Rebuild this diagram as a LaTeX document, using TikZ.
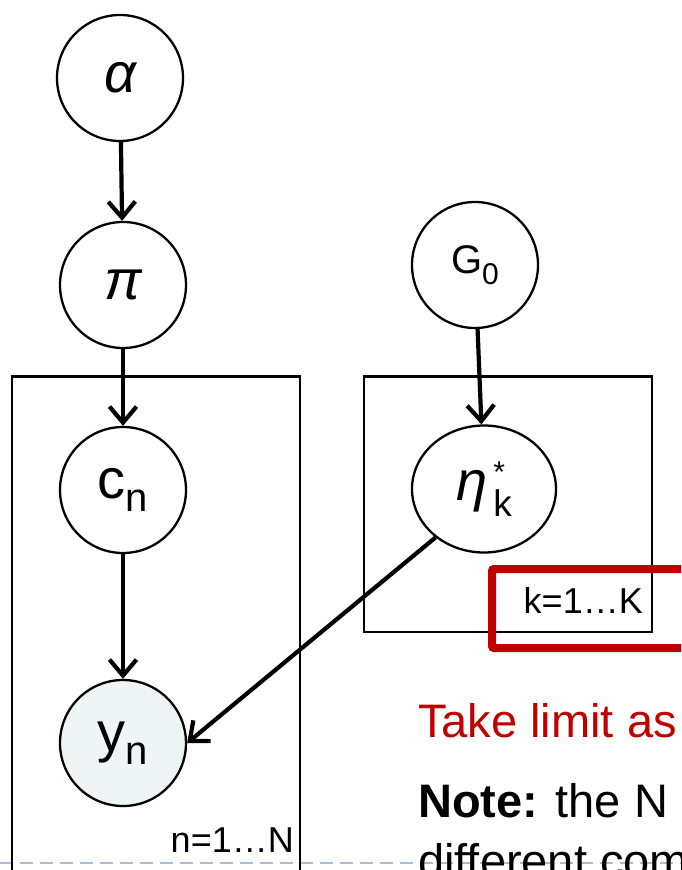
\documentclass[tikz,border=0pt]{standalone}
\usepackage{fontspec}
\setmainfont{Liberation Sans}
\usetikzlibrary{arrows.meta,shapes.geometric}
\definecolor{myred}{RGB}{192,0,0}
\definecolor{obsfill}{RGB}{239,245,245}
\definecolor{dashblue}{RGB}{167,189,211}
\begin{document}
\begin{tikzpicture}[x=1pt,y=-1pt,
 var/.style={circle,draw,line width=2.3pt,minimum size=126pt,inner sep=0pt},
 arr/.style={-{Straight Barb[length=16pt,width=27pt,line width=4.2pt]},line width=4.2pt},
 plate/.style={draw,line width=2.6pt},
 big/.style={font=\fontsize{56}{56}\selectfont},
 platelabel/.style={anchor=base east,inner sep=0pt,font=\fontsize{36}{36}\selectfont},
 bodytext/.style={anchor=base west,inner sep=0pt,font=\fontsize{47}{47}\selectfont}]
\useasboundingbox (0,0) rectangle (681,870);
\begin{scope}
\clip (0,0) rectangle (681,870);
% dashed slide line
\draw[dashblue,line width=2pt,dash pattern=on 13pt off 7pt] (0,863) -- (681,863);
% plates
\draw[plate] (12,900) -- (12,376.5) -- (300,376.5) -- (300,900);
\draw[plate] (364,376.5) rectangle (652,632);
% nodes
\node[var,big] (alpha) at (120,78) {\itshape α};
\node[var,big] (pi) at (123,285) {\itshape π};
\node[var] (G0) at (475,265) {\fontsize{40}{40}\selectfont G\raisebox{-11pt}{\fontsize{30}{30}\selectfont 0}};
\node[var,big] (cn) at (123,490) {c\raisebox{-13pt}{\fontsize{40}{40}\selectfont n}};
\node[ellipse,draw,line width=2.3pt,minimum width=144pt,minimum height=127pt,inner sep=0pt,big] (eta) at (484,489)
  {\itshape η\hspace{6pt}\upshape\makebox[0pt][l]{\raisebox{18pt}{\fontsize{30}{30}\selectfont *}}\raisebox{-16pt}{\fontsize{37}{37}\selectfont k}};
\node[var,big,fill=obsfill] (yn) at (123,743) {y\raisebox{-13pt}{\fontsize{40}{40}\selectfont n}};
% plate labels
\node[platelabel] (nlab) at (294,852) {n=1…N};
\node[platelabel] (klab) at (643,613) {k=1…K};
% red highlight
\draw[myred,line width=8pt,rounded corners=2pt] (492,569) rectangle (720,648);
% edges
\draw[arr] (alpha) -- (pi);
\draw[arr] (pi) -- (cn);
\draw[arr] (cn) -- (yn);
\draw[arr] (G0) -- (eta);
\draw[arr] (eta.225) -- (yn.east);
% text
\node[bodytext,text=myred] (take) at (418,737) {Take limit as};
\node[bodytext] (note) at (418,817) {\textbf{Note:} the N};
\node[bodytext] (diff) at (418,877) {different com};
\end{scope}
\end{tikzpicture}
\end{document}
